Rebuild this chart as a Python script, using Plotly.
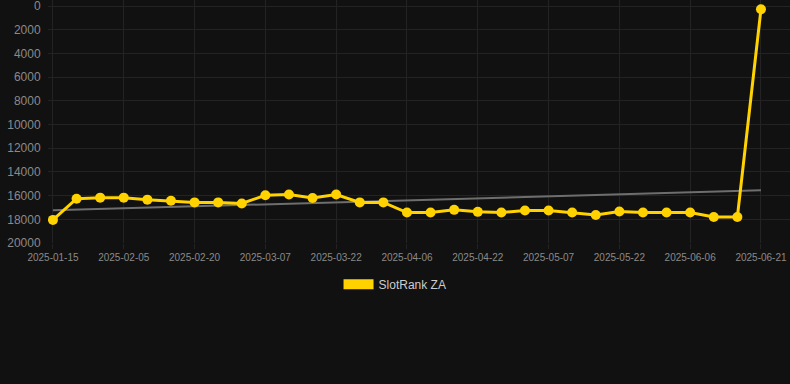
import numpy as np
import plotly.graph_objects as go

dates = ["2025-01-15", "2025-01-22", "2025-01-29", "2025-02-05", "2025-02-10", "2025-02-15",
         "2025-02-20", "2025-02-25", "2025-03-02", "2025-03-07", "2025-03-12", "2025-03-17",
         "2025-03-22", "2025-03-27", "2025-04-01", "2025-04-06", "2025-04-11", "2025-04-16",
         "2025-04-22", "2025-04-27", "2025-05-02", "2025-05-07", "2025-05-12", "2025-05-17",
         "2025-05-22", "2025-05-27", "2025-06-01", "2025-06-06", "2025-06-11", "2025-06-16",
         "2025-06-21"]
ranks = [18050, 16260, 16170, 16170, 16340, 16430, 16570, 16570, 16660, 15970, 15910, 16200,
         15910, 16570, 16570, 17430, 17430, 17200, 17370, 17430, 17260, 17260, 17430, 17630,
         17340, 17430, 17430, 17430, 17800, 17800, 260]
y_ticks = [0, 2000, 4000, 6000, 8000, 10000, 12000, 14000, 16000, 18000, 20000]
series_name = "SlotRank ZA"

idx = np.arange(len(ranks))
slope, intercept = np.polyfit(idx, ranks, 1)
trend = (slope * idx + intercept).tolist()

YELLOW = "#FFD200"
BG = "#111111"
GRID = "#232323"

fig = go.Figure()
fig.add_trace(go.Scatter(
    x=list(idx), y=trend, mode="lines",
    line=dict(color="#6e6e6e", width=2), showlegend=False, hoverinfo="skip"))
fig.add_trace(go.Scatter(
    x=list(idx), y=ranks, mode="lines+markers",
    line=dict(color=YELLOW, width=3),
    marker=dict(color=YELLOW, size=10),
    showlegend=False, name=series_name))
fig.add_trace(go.Scatter(
    x=[None], y=[None], mode="lines",
    line=dict(color=YELLOW, width=12), name=series_name, showlegend=True))

tick_idx = list(range(0, len(dates), 3))
fig.update_layout(
    width=790, height=384,
    paper_bgcolor=BG, plot_bgcolor=BG,
    margin=dict(l=48, r=0, t=0, b=141, autoexpand=False),
    font=dict(family="Liberation Sans, Arial, sans-serif"),
    xaxis=dict(
        range=[-0.21, 31.23], tickmode="array",
        tickvals=tick_idx, ticktext=[dates[i] for i in tick_idx],
        showgrid=True, gridcolor=GRID, gridwidth=1, zeroline=False,
        tickfont=dict(size=10, color="#8a8a8a"), ticks="outside",
        ticklen=5, tickcolor=GRID, showline=False, tickangle=0,
        ticklabeloverflow="allow"),
    yaxis=dict(
        range=[20000, -520], tickmode="array", tickvals=y_ticks,
        ticktext=[str(v) for v in y_ticks],
        showgrid=True, gridcolor=GRID, gridwidth=1, zeroline=False,
        tickfont=dict(size=12, color="#8a8a8a"), ticks="outside",
        ticklen=4, tickcolor=BG, showline=False,
        ticklabeloverflow="allow"),
    legend=dict(
        orientation="h", x=0.4677, xanchor="center",
        y=-0.11, yanchor="top",
        font=dict(size=12, color="#cccccc"), bgcolor="rgba(0,0,0,0)"),
)

fig.write_html("out.html", config={"displayModeBar": False},
               post_script="document.body.style.margin='0';document.body.style.background='#111111';")
